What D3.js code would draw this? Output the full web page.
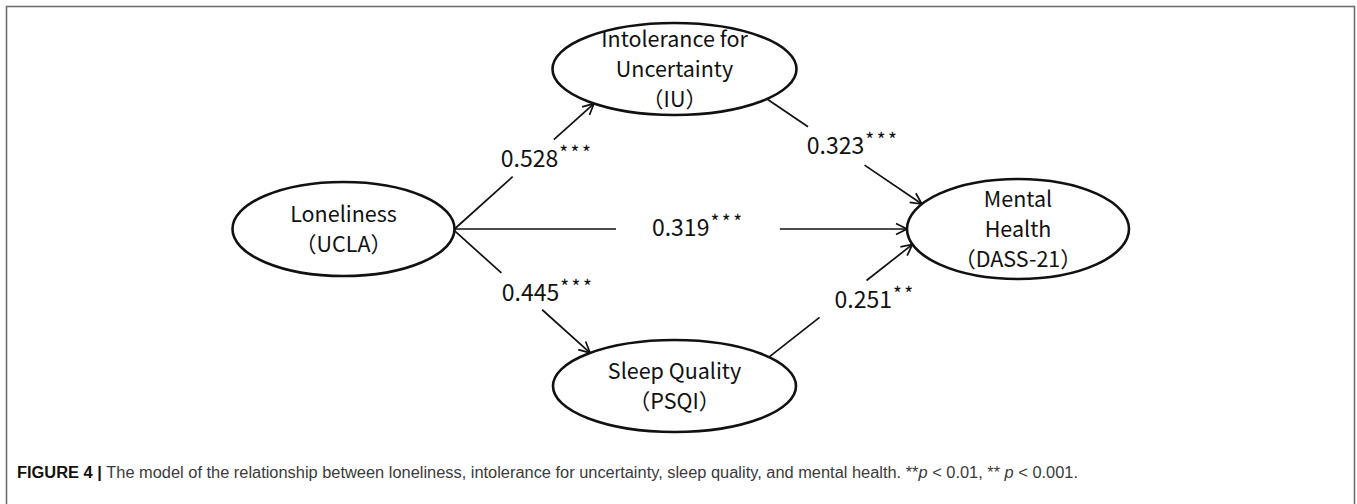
<!DOCTYPE html>
<html>
<head>
<meta charset="utf-8">
<script src="https://cdn.jsdelivr.net/npm/d3@7"></script>
<style>
  body { margin: 0; background: #fff; }
  svg { display: block; }
  .node-label { font-family: "Noto Sans CJK SC", "Noto Sans", sans-serif; font-size: 21.5px; fill: #111; }
  .coef { font-family: "Noto Sans CJK SC", "Noto Sans", sans-serif; font-size: 23px; fill: #111; }
  .caption { font-family: "Liberation Sans Narrow", "Liberation Sans", sans-serif; font-size: 16px; fill: #3a3a3a; }
</style>
</head>
<body>
<div id="chart"></div>
<script>
// model variables
var nodeLines = [
  ["Loneliness", "\uFF08UCLA\uFF09"],
  ["Intolerance for", "Uncertainty", "\uFF08IU\uFF09"],
  ["Sleep Quality", "\uFF08PSQI\uFF09"],
  ["Mental", "Health", "\uFF08DASS-21\uFF09"]
];
var nodeColumn = [0, 1, 1, 2];
var nodeRow = [1, 0, 2, 1];

// paths (from -> to) with standardized coefficients
var pathFrom = [0, 1, 0, 0, 2];
var pathTo = [1, 3, 3, 2, 3];
var coefficients = [0.528, 0.323, 0.319, 0.445, 0.251];
var significance = ["***", "***", "***", "***", "**"];

var captionText = "The model of the relationship between loneliness, intolerance for uncertainty, sleep quality, and mental health. ";

// layout (kept apart from the data)
var width = 1357, height = 504;
var nodeRx = [111, 122, 121.5, 111],
    nodeRy = [47, 46, 46, 50];
var srcAngle = [0, 40.7, 0, 2, -39],
    tgtAngle = [131.3, -150, 180, -134, 162];
var gap = [[0.417, 0.712], [0.265, 0.63], [0.357, 0.719], [0.346, 0.647], [0.353, 0.68]];
var labelShift = [[-32.5, 9], [-29.5, 8], [-46, 7], [-20, 10], [-8.5, 9]];

var x = d3.scaleLinear().domain([0, 1, 2]).range([343.5, 674.5, 1018]);
var y = d3.scaleLinear().domain([0, 1, 2]).range([69, 229, 386]);

var svg = d3.select("#chart").append("svg")
  .attr("width", width)
  .attr("height", height);

// frame
svg.append("rect")
  .attr("x", 6.5).attr("y", 6.5)
  .attr("width", 1348).attr("height", 560)
  .attr("fill", "none")
  .attr("stroke", "#6e6e6e")
  .attr("stroke-width", 1.6);

svg.append("defs").append("marker")
  .attr("id", "arrow")
  .attr("markerUnits", "userSpaceOnUse")
  .attr("viewBox", "-14 -8 16 16")
  .attr("markerWidth", 16).attr("markerHeight", 16)
  .attr("refX", 0).attr("refY", 0)
  .attr("orient", "auto")
  .append("path")
    .attr("d", "M-11,-5.5L0,0L-11,5.5")
    .attr("fill", "none")
    .attr("stroke", "#111")
    .attr("stroke-width", 1.7);

function anchor(n, deg) {
  var a = deg * Math.PI / 180;
  return [x(nodeColumn[n]) + nodeRx[n] * Math.cos(a), y(nodeRow[n]) + nodeRy[n] * Math.sin(a)];
}

function lerp(p, q, t) { return [p[0] + (q[0] - p[0]) * t, p[1] + (q[1] - p[1]) * t]; }

var edges = coefficients.map(function(c, i) {
  var s = anchor(pathFrom[i], srcAngle[i]),
      t = anchor(pathTo[i], tgtAngle[i]);
  return {
    s: s, t: t,
    a: lerp(s, t, gap[i][0]),
    b: lerp(s, t, gap[i][1]),
    m: lerp(s, t, (gap[i][0] + gap[i][1]) / 2),
    coef: c.toFixed(3), sig: significance[i], i: i
  };
});

var eg = svg.append("g").attr("class", "edges");

eg.selectAll(".seg1").data(edges).enter().append("line")
  .attr("x1", function(d) { return d.s[0]; })
  .attr("y1", function(d) { return d.s[1]; })
  .attr("x2", function(d) { return d.a[0]; })
  .attr("y2", function(d) { return d.a[1]; })
  .attr("stroke", "#111").attr("stroke-width", 1.7);

eg.selectAll(".seg2").data(edges).enter().append("line")
  .attr("x1", function(d) { return d.b[0]; })
  .attr("y1", function(d) { return d.b[1]; })
  .attr("x2", function(d) { return d.t[0]; })
  .attr("y2", function(d) { return d.t[1]; })
  .attr("stroke", "#111").attr("stroke-width", 1.7)
  .attr("marker-end", "url(#arrow)");

var lab = eg.selectAll(".coef").data(edges).enter().append("text")
  .attr("class", "coef")
  .attr("x", function(d) { return d.m[0] + labelShift[d.i][0]; })
  .attr("y", function(d) { return d.m[1] + labelShift[d.i][1]; });
lab.append("tspan").text(function(d) { return d.coef; });
lab.append("tspan")
  .attr("dy", -7)
  .attr("dx", 1)
  .attr("font-size", 19)
  .attr("letter-spacing", 2.5)
  .text(function(d) { return d.sig; });

// nodes
var ng = svg.append("g").selectAll("g").data(nodeLines).enter().append("g")
  .attr("transform", function(d, i) { return "translate(" + x(nodeColumn[i]) + "," + y(nodeRow[i]) + ")"; });

ng.append("ellipse")
  .attr("rx", function(d, i) { return nodeRx[i]; })
  .attr("ry", function(d, i) { return nodeRy[i]; })
  .attr("fill", "#fff")
  .attr("stroke", "#111")
  .attr("stroke-width", 2.6);

ng.each(function(lines) {
  var n = lines.length;
  d3.select(this).selectAll("text").data(lines).enter().append("text")
    .attr("class", "node-label")
    .attr("text-anchor", "middle")
    .attr("y", function(d, j) { return 7.5 + (j - (n - 1) / 2) * 30; })
    .text(function(d) { return d; });
});

// caption
var cap = svg.append("text")
  .attr("class", "caption")
  .attr("x", 17).attr("y", 478)
  .attr("textLength", 1061)
  .attr("lengthAdjust", "spacingAndGlyphs");
cap.append("tspan").attr("font-weight", "bold").attr("fill", "#111").text("FIGURE 4 | ");
cap.append("tspan").text(captionText + "**");
cap.append("tspan").attr("font-style", "italic").text("p");
cap.append("tspan").text(" < 0.01, ** ");
cap.append("tspan").attr("font-style", "italic").text("p");
cap.append("tspan").text(" < 0.001.");
</script>
</body>
</html>
